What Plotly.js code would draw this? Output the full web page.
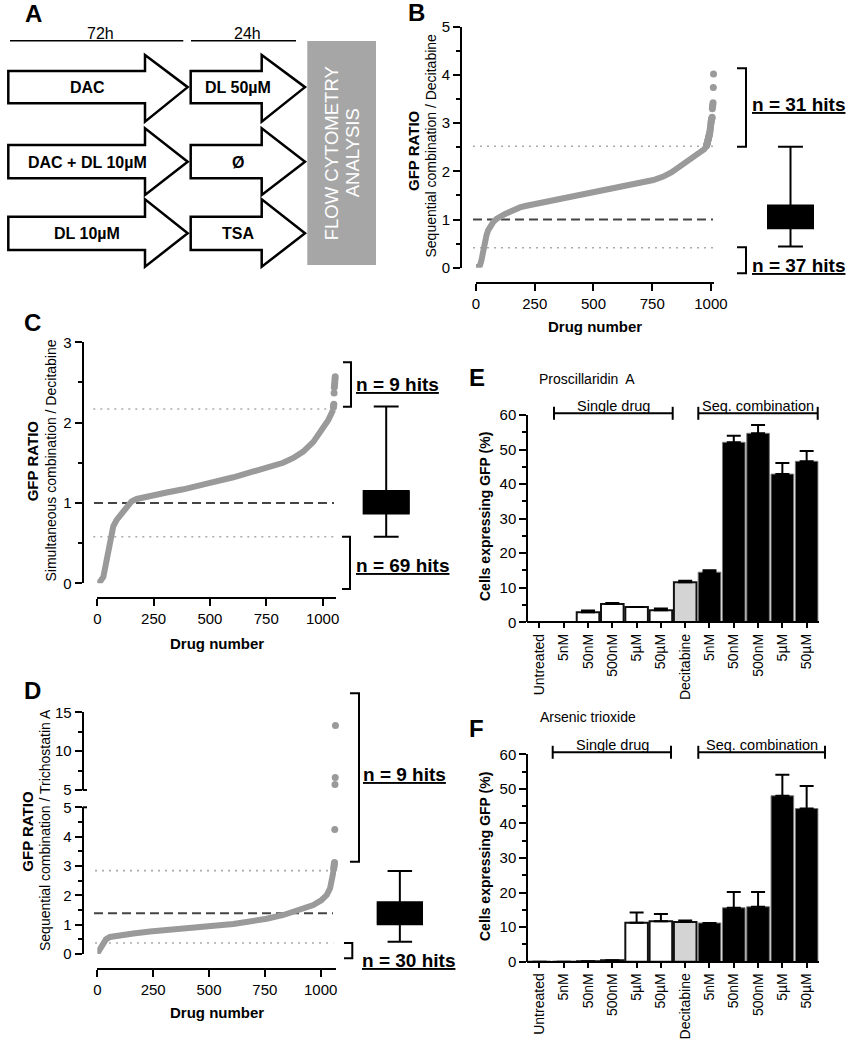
<!DOCTYPE html>
<html><head><meta charset="utf-8">
<script src="https://cdn.plot.ly/plotly-3.0.1.min.js"></script>
<style>body{margin:0;background:#fff}#chart{width:855px;height:1050px}</style>
</head><body><div id="chart"></div>
<script>
// ================= DATA =================
// Panel B: sorted GFP ratio (sequential combination / decitabine)
const drugB  = [0, 8, 17, 23, 28, 33, 38, 45, 52, 62, 74, 87, 102, 122, 145, 165, 187, 210, 230, 300, 370, 440, 513, 585, 655, 700, 726, 755, 797, 820, 833, 850, 868, 904, 939, 962, 972, 980];
const ratioB = [0, 0.01, 0.05, 0.15, 0.30, 0.45, 0.57, 0.68, 0.78, 0.88, 0.95, 1.01, 1.06, 1.11, 1.16, 1.21, 1.25, 1.28, 1.30, 1.37, 1.44, 1.50, 1.57, 1.63, 1.70, 1.75, 1.78, 1.82, 1.89, 1.93, 1.98, 2.04, 2.10, 2.20, 2.32, 2.41, 2.46, 2.52];
const hitsB  = [2.53, 2.55, 2.56, 2.58, 2.60, 2.62, 2.64, 2.66, 2.68, 2.70, 2.72, 2.74, 2.76, 2.78, 2.80, 2.84, 2.88, 2.92, 2.96, 3.00, 3.03, 3.06, 3.08, 3.10, 3.12, 3.30, 3.35, 3.38, 3.42, 3.74, 4.02];
const thresholdsB = [0.415, 1.0, 2.52];           // lower, reference, upper
const boxB = [0.44, 0.82, 1.05, 1.29, 2.51];       // lower whisker, q1, median, q3, upper whisker
const hitLabelsB = ['n = 31 hits', 'n = 37 hits'];

// Panel C: simultaneous combination / decitabine
const drugC  = [0, 12, 27, 38, 49, 56, 61, 71, 86, 108, 130, 152, 175, 234, 308, 382, 456, 500, 604, 678, 751, 825, 870, 914, 959, 996, 1025, 1047];
const ratioC = [0, 0.02, 0.08, 0.25, 0.33, 0.46, 0.60, 0.71, 0.79, 0.87, 0.95, 1.02, 1.05, 1.09, 1.13, 1.17, 1.21, 1.25, 1.32, 1.38, 1.43, 1.50, 1.56, 1.64, 1.76, 1.91, 2.03, 2.16];
const hitsC  = [2.19, 2.21, 2.23, 2.37, 2.44, 2.47, 2.50, 2.54, 2.57];
const thresholdsC = [0.58, 1.0, 2.17];
const boxC = [0.58, 0.87, 1.0, 1.15, 2.2];
const hitLabelsC = ['n = 9 hits', 'n = 69 hits'];

// Panel D: sequential combination / trichostatin A
const drugD  = [0, 7, 16, 27, 39, 57, 87, 161, 236, 310, 385, 460, 534, 609, 684, 758, 833, 907, 967, 1004, 1027, 1042, 1049, 1054, 1057];
const ratioD = [0.02, 0.11, 0.25, 0.40, 0.50, 0.58, 0.625, 0.70, 0.77, 0.83, 0.875, 0.92, 0.97, 1.02, 1.10, 1.20, 1.33, 1.50, 1.67, 1.84, 2.01, 2.24, 2.52, 2.69, 2.81];
const hitsD  = [2.90, 2.96, 3.02, 3.08, 3.12, 4.24, 5.7, 6.6, 13.3];
const thresholdsD = [0.375, 1.39, 2.84];
const boxD = [0.42, 1.01, 1.30, 1.76, 2.83];
const hitLabelsD = ['n = 9 hits', 'n = 30 hits'];

// Panels E & F: cells expressing GFP (%)
const categories = ['Untreated', '5nM', '50nM', '500nM', '5\u00b5M', '50\u00b5M', 'Decitabine', '5nM', '50nM', '500nM', '5\u00b5M', '50\u00b5M'];
const groups     = ['untreated', 'single', 'single', 'single', 'single', 'single', 'decitabine', 'combo', 'combo', 'combo', 'combo', 'combo'];
const valuesE = [0, 0, 2.9, 5.3, 4.4, 3.5, 11.6, 14.5, 52.1, 54.7, 42.9, 46.6];
const errE    = [0, 0, 0.5, 0.3, 0, 0.5, 0.4, 0.6, 1.9, 2.4, 3.2, 3.0];
const valuesF = [0, 0, 0.15, 0.4, 11.3, 11.7, 11.5, 11.2, 15.6, 15.9, 48.0, 44.3];
const errF    = [0, 0, 0, 0, 2.9, 2.1, 0.4, 0, 4.6, 4.3, 6.1, 6.5];
const titleE = 'Proscillaridin\u00a0 A';
const titleF = 'Arsenic trioxide';

// ================= HELPERS =================
const W = 855, H = 1050;
const FONT = 'Liberation Sans, Arial, Helvetica, sans-serif';
const GREY = '#9a9a9a';
const px = x => x / W;
const py = y => 1 - y / H;

const axisBase = {
  showline: true, linecolor: '#000', linewidth: 2,
  ticks: 'outside', tickcolor: '#000', tickwidth: 2, ticklen: 7,
  showgrid: false, zeroline: false, fixedrange: true,
  tickfont: {family: FONT, size: 15, color: '#000'}
};
function xAx(x0, x1, yPos, range, extra) {
  return Object.assign({}, axisBase, {domain: [px(x0), px(x1)], anchor: 'free', position: py(yPos), range: range}, extra || {});
}
function yAx(yTop, yBot, xPos, range, extra) {
  return Object.assign({}, axisBase, {domain: [py(yBot), py(yTop)], anchor: 'free', position: px(xPos), range: range}, extra || {});
}
function hiddenX(x0, x1, anchor) {
  return {domain: [px(x0), px(x1)], anchor: anchor, range: [-0.5, 0.5], visible: false, type: 'linear', fixedrange: true};
}
function ann(x, y, text, size, extra) {
  return Object.assign({xref: 'paper', yref: 'paper', x: px(x), y: py(y), text: text, showarrow: false,
    font: {family: FONT, size: size, color: '#000'}, xanchor: 'center', yanchor: 'middle'}, extra || {});
}
function line(x0, y0, x1, y1, w, color, dash) {
  return {type: 'line', xref: 'paper', yref: 'paper', x0: px(x0), y0: py(y0), x1: px(x1), y1: py(y1),
    line: {color: color || '#000', width: w || 2, dash: dash || 'solid'}};
}
function hline(yref, yv, x0, x1, color, width, dash) {
  return {type: 'line', xref: 'paper', yref: yref, x0: px(x0), x1: px(x1), y0: yv, y1: yv,
    line: {color: color, width: width, dash: dash}, layer: 'below'};
}
function pathShape(pts, fill, lw) {
  const d = pts.map((p, i) => (i ? 'L' : 'M') + px(p[0]).toFixed(5) + ',' + py(p[1]).toFixed(5)).join(' ') + ' Z';
  return {type: 'path', xref: 'paper', yref: 'paper', path: d, fillcolor: fill, line: {color: '#000', width: lw}};
}
function arrow(xl, xh, xt, bt, bb, ht, hb) {
  const tipY = (bt + bb) / 2;
  return pathShape([[xl, bt], [xh, bt], [xh, ht], [xt, tipY], [xh, hb], [xh, bb], [xl, bb]], '#fff', 2.5);
}
function bracket(x, yTop, yBot, armX) {
  return {type: 'path', xref: 'paper', yref: 'paper',
    path: `M${px(armX)},${py(yTop)} L${px(x)},${py(yTop)} L${px(x)},${py(yBot)} L${px(armX)},${py(yBot)}`,
    line: {color: '#000', width: 2}};
}
function hbracket(x0, x1, y) {
  return [line(x0, y, x1, y, 2), line(x0, y - 6.5, x0, y + 6.5, 2), line(x1, y - 6.5, x1, y + 6.5, 2)];
}
function curveTrace(xa, ya, xs, ys) {
  return {type: 'scatter', mode: 'lines', x: xs, y: ys, xaxis: xa, yaxis: ya,
    line: {color: GREY, width: 6}, cliponaxis: false, hoverinfo: 'skip'};
}
function hitTrace(xa, ya, xs, ys) {
  return {type: 'scatter', mode: 'markers', x: xs, y: ys, xaxis: xa, yaxis: ya,
    marker: {color: GREY, size: 7}, cliponaxis: false, hoverinfo: 'skip'};
}
function boxTrace(xa, ya, s) {
  return {type: 'box', x: [0], lowerfence: [s[0]], q1: [s[1]], median: [s[2]], q3: [s[3]], upperfence: [s[4]],
    xaxis: xa, yaxis: ya, width: 1, whiskerwidth: 0.53, fillcolor: '#000',
    line: {color: '#000', width: 2}, boxpoints: false, hoverinfo: 'skip'};
}
const barColor = {untreated: '#fff', single: '#fff', decitabine: '#d4d4d4', combo: '#000'};
function barTrace(xa, ya, vals, errs) {
  return {type: 'bar', x: categories.map((c, i) => i), y: vals, xaxis: xa, yaxis: ya,
    marker: {color: groups.map(g => barColor[g]), line: {color: groups.map(g => g === 'combo' ? '#777' : '#111'), width: groups.map(g => g === 'combo' ? 1 : 2)}},
    error_y: {type: 'data', symmetric: false, array: errs, arrayminus: errs.map(() => 0),
      color: '#000', thickness: 2, width: 7},
    cliponaxis: false, hoverinfo: 'skip'};
}
const hitRanks = (start, arr) => arr.map((v, i) => start + 1 + i);

// ================= TRACES =================
const rB = hitRanks(drugB[drugB.length - 1], hitsB);
const rC = hitRanks(drugC[drugC.length - 1], hitsC);
const rD = hitRanks(drugD[drugD.length - 1], hitsD);
const lowD = hitsD.map((v, i) => [rD[i], v]).filter(p => p[1] <= 5);
const highD = hitsD.map((v, i) => [rD[i], v]).filter(p => p[1] > 5);

const traces = [
  curveTrace('x', 'y', drugB, ratioB), hitTrace('x', 'y', rB, hitsB), boxTrace('x2', 'y', boxB),
  curveTrace('x3', 'y3', drugC, ratioC), hitTrace('x3', 'y3', rC, hitsC), boxTrace('x4', 'y3', boxC),
  curveTrace('x5', 'y5', drugD, ratioD),
  hitTrace('x5', 'y5', lowD.map(p => p[0]), lowD.map(p => p[1])),
  hitTrace('x5', 'y6', highD.map(p => p[0]), highD.map(p => p[1])),
  boxTrace('x6', 'y5', boxD),
  barTrace('x7', 'y7', valuesE, errE),
  barTrace('x8', 'y8', valuesF, errF)
];

// ================= LAYOUT =================
const drugTicks = {tickvals: [0, 250, 500, 750, 1000], ticktext: ['0', '250', '500', '750', '1000']};
const minorHalf = {minor: {dtick: 0.5, ticks: 'outside', ticklen: 4, tickwidth: 2, tickcolor: '#000', showgrid: false}};
const catAxis = {tickvals: categories.map((c, i) => i), ticktext: categories, tickangle: -90, ticklen: 5,
  tickfont: {family: FONT, size: 14, color: '#000'}};
const pctAxis = {dtick: 10, minor: {dtick: 5, ticks: 'outside', ticklen: 4, tickwidth: 2, tickcolor: '#000', showgrid: false}};

const shapes = [];
const annotations = [];

// ---- Panel A (diagram) ----
shapes.push(line(10, 40.7, 183.3, 40.7, 1.5), line(191, 40.7, 296, 40.7, 1.5));
shapes.push({type: 'rect', xref: 'paper', yref: 'paper', x0: px(307.3), x1: px(376), y0: py(265), y1: py(41), fillcolor: '#a6a6a6', line: {width: 0}});
const rows = [[71, 103.3, 55, 121.7], [145, 178.3, 128.3, 195], [216.7, 250, 199.3, 266.7]];
rows.forEach(r => {
  shapes.push(arrow(8.3, 145, 187.7, r[0], r[1], r[2], r[3]));
  shapes.push(arrow(190.7, 261.7, 305, r[0], r[1], r[2], r[3]));
});
annotations.push(ann(33, 14, '<b>A</b>', 24));
annotations.push(ann(100, 33.5, '72h', 16), ann(247.7, 33.5, '24h', 16));
const armText = [['DAC', 'DL 50\u00b5M'], ['DAC + DL 10\u00b5M', '\u00d8'], ['DL 10\u00b5M', 'TSA']];
armText.forEach((t, i) => {
  const yc = (rows[i][0] + rows[i][1]) / 2 + 0.5;
  annotations.push(ann(87, yc, '<b>' + t[0] + '</b>', 16), ann(238, yc, '<b>' + t[1] + '</b>', 16));
});
annotations.push(ann(331, 153.3, 'FLOW CYTOMETRY', 18.5, {textangle: -90, font: {family: FONT, size: 18.5, color: '#fff'}}));
annotations.push(ann(352, 153.3, 'ANALYSIS', 18.5, {textangle: -90, font: {family: FONT, size: 18.5, color: '#fff'}}));

// ---- Panel B ----
shapes.push(hline('y', thresholdsB[0], 473, 713, '#aaa', 1.6, '2px,5px'));
shapes.push(hline('y', thresholdsB[2], 473, 713, '#aaa', 1.6, '2px,5px'));
shapes.push(hline('y', thresholdsB[1], 473, 713, '#444', 2, '9px,5px'));
shapes.push(bracket(746, 68.3, 146.7, 737), bracket(746, 247.3, 273.3, 737));
annotations.push(ann(416, 12, '<b>B</b>', 24));
annotations.push(ann(798, 104, '<b><u>' + hitLabelsB[0] + '</u></b>', 19), ann(798, 265, '<b><u>' + hitLabelsB[1] + '</u></b>', 19));
annotations.push(ann(413, 151, '<b>GFP RATIO</b>', 15, {textangle: -90}));
annotations.push(ann(430.5, 146, 'Sequential combination / Decitabine', 14, {textangle: -90}));
annotations.push(ann(595, 327, '<b>Drug number</b>', 15));

// ---- Panel C ----
shapes.push(hline('y3', thresholdsC[0], 93.3, 336, '#aaa', 1.6, '2px,5px'));
shapes.push(hline('y3', thresholdsC[2], 93.3, 336, '#aaa', 1.6, '2px,5px'));
shapes.push(hline('y3', thresholdsC[1], 94, 334, '#444', 2, '9px,5px'));
shapes.push(bracket(351, 362.3, 406.7, 343), bracket(350, 536.7, 589, 342));
annotations.push(ann(32, 322, '<b>C</b>', 24));
annotations.push(ann(397, 384.3, '<b><u>' + hitLabelsC[0] + '</u></b>', 19), ann(402.7, 565.7, '<b><u>' + hitLabelsC[1] + '</u></b>', 19));
annotations.push(ann(33.3, 461, '<b>GFP RATIO</b>', 15, {textangle: -90}));
annotations.push(ann(50.5, 461, 'Simultaneous combination / Decitabine', 14, {textangle: -90}));
annotations.push(ann(216.7, 643, '<b>Drug number</b>', 15));

// ---- Panel D ----
shapes.push(hline('y5', thresholdsD[0], 95, 333.3, '#aaa', 1.6, '2px,5px'));
shapes.push(hline('y5', thresholdsD[2], 95, 333.3, '#aaa', 1.6, '2px,5px'));
shapes.push(hline('y5', thresholdsD[1], 94, 333, '#444', 2, '9px,5px'));
shapes.push(bracket(359, 693.3, 861.7, 350), bracket(352.3, 943, 958.3, 344));
shapes.push(line(82.7, 790, 87, 790, 2), line(82.7, 807.3, 87, 807.3, 2));
annotations.push(ann(32, 690, '<b>D</b>', 24));
annotations.push(ann(404.3, 774.3, '<b><u>' + hitLabelsD[0] + '</u></b>', 19), ann(408.3, 960.7, '<b><u>' + hitLabelsD[1] + '</u></b>', 19));
annotations.push(ann(26.7, 831, '<b>GFP RATIO</b>', 15, {textangle: -90}));
annotations.push(ann(45, 830, 'Sequential combination / Trichostatin A', 14, {textangle: -90}));
annotations.push(ann(216.7, 1012.5, '<b>Drug number</b>', 15));

// ---- Panel E ----
annotations.push(ann(477, 377, '<b>E</b>', 24));
annotations.push(ann(537, 379.3, titleE, 14, {xanchor: 'left'}));
shapes.push(...hbracket(554, 672.7, 413.3), ...hbracket(698.3, 817.7, 413.3));
annotations.push(ann(613, 405.5, 'Single drug', 14.5), ann(758, 405.5, 'Seq. combination', 14.5));
annotations.push(ann(485, 517, '<b>Cells expressing GFP (%)</b>', 14, {textangle: -90}));

// ---- Panel F ----
annotations.push(ann(476, 728.5, '<b>F</b>', 24));
annotations.push(ann(538.3, 716.7, titleF, 14, {xanchor: 'left'}));
shapes.push(...hbracket(552.7, 671, 752.3), ...hbracket(698.3, 825, 752.3));
annotations.push(ann(612, 744.5, 'Single drug', 14.5), ann(761.7, 744.5, 'Seq. combination', 14.5));
annotations.push(ann(485, 857, '<b>Cells expressing GFP (%)</b>', 14, {textangle: -90}));

const layout = {
  width: W, height: H, margin: {l: 0, r: 0, t: 0, b: 0},
  paper_bgcolor: '#fff', plot_bgcolor: 'rgba(0,0,0,0)', showlegend: false,
  font: {family: FONT, color: '#000'},
  bargap: 0.07,
  // B
  xaxis:  xAx(476, 714, 282.7, [0, 1013], drugTicks),
  yaxis:  yAx(26.7, 267.7, 461, [0, 5], Object.assign({dtick: 1}, minorHalf)),
  xaxis2: hiddenX(767, 814, 'y'),
  // C
  xaxis3: xAx(97.3, 336, 598.3, [0, 1059.5], drugTicks),
  yaxis3: yAx(342.3, 583.3, 82.7, [0, 3], Object.assign({dtick: 1}, minorHalf)),
  xaxis4: hiddenX(362.7, 409.7, 'y3'),
  // D
  xaxis5: xAx(97.3, 336, 969.3, [0, 1068.5], drugTicks),
  yaxis5: yAx(807.3, 954, 82.7, [0, 5], Object.assign({dtick: 1}, minorHalf)),
  yaxis6: yAx(712.3, 790, 82.7, [5, 15], {dtick: 5, tick0: 0, minor: {dtick: 2.5, ticks: 'outside', ticklen: 4, tickwidth: 2, tickcolor: '#000', showgrid: false}}),
  xaxis6: hiddenX(376.7, 423, 'y5'),
  // E
  xaxis7: xAx(527.3, 818.8, 622.3, [-0.5, 11.5], catAxis),
  yaxis7: yAx(415, 622.3, 527.3, [0, 60], pctAxis),
  // F
  xaxis8: xAx(527.3, 818.8, 961.7, [-0.5, 11.5], catAxis),
  yaxis8: yAx(754.3, 961.7, 527.3, [0, 60], pctAxis),
  shapes: shapes,
  annotations: annotations
};

Plotly.newPlot('chart', traces, layout, {staticPlot: true, displayModeBar: false});
</script>
</body></html>
